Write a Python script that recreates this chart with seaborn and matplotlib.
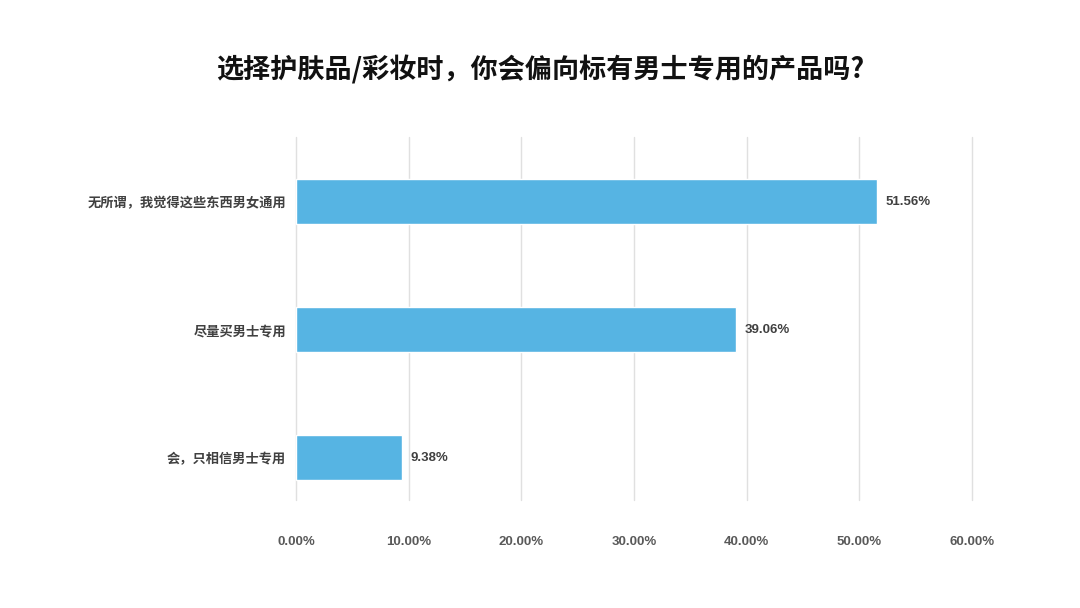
import matplotlib
matplotlib.use("Agg")
import matplotlib.pyplot as plt
import seaborn as sns
import pandas as pd
from matplotlib.ticker import FuncFormatter

categories = ["无所谓，我觉得这些东西男女通用", "尽量买男士专用", "会，只相信男士专用"]
values = [51.56, 39.06, 9.38]
xticks = [0, 10, 20, 30, 40, 50, 60]
title = "选择护肤品/彩妆时，你会偏向标有男士专用的产品吗?"

sns.set_theme(style="white")
plt.rcParams['font.family'] = ['Noto Sans CJK SC', 'DejaVu Sans']
num_font = ['Liberation Sans', 'DejaVu Sans']

df = pd.DataFrame({"cat": categories, "val": values})

fig = plt.figure(figsize=(10.8, 6.08), dpi=100)
ax = fig.add_axes([296/1080, 1-500/608, (972-296)/1080, (500-137)/608])

sns.barplot(data=df, x="val", y="cat", color="#56B4E3", width=0.35,
            saturation=1, ax=ax, orient="h")

ax.set_xlim(0, 60)
ax.set_ylim(2.33, -0.504)
ax.set_xticks(xticks)
ax.xaxis.set_major_formatter(FuncFormatter(lambda v, p: f"{v:.2f}%"))
ax.grid(axis="x", color="#E0E0E0", linewidth=1)
ax.set_axisbelow(True)
for gl in ax.get_xgridlines():
    gl.set_clip_on(False)
for s in ax.spines.values():
    s.set_visible(False)
ax.set_xlabel("")
ax.set_ylabel("")
ax.tick_params(axis="x", length=0, pad=26, labelsize=9.5, labelcolor="#595959")
ax.tick_params(axis="y", length=0, pad=7, labelsize=9.5, labelcolor="#404040")
for lbl in ax.get_xticklabels():
    lbl.set_fontweight("bold")
    lbl.set_family(num_font)
for lbl in ax.get_yticklabels():
    lbl.set_fontweight("bold")

for i, v in enumerate(values):
    ax.annotate(f"{v:.2f}%", xy=(v, i), xytext=(6.5, 0), textcoords="offset points",
                va="center", ha="left", fontsize=9.5, fontweight="bold",
                color="#404040", family=num_font)

fig.text(0.5, 1-70/608, title, ha="center", va="center", fontsize=19.5,
         fontweight="bold", color="#111111")

fig.savefig("out.png", dpi=100, facecolor="white")
